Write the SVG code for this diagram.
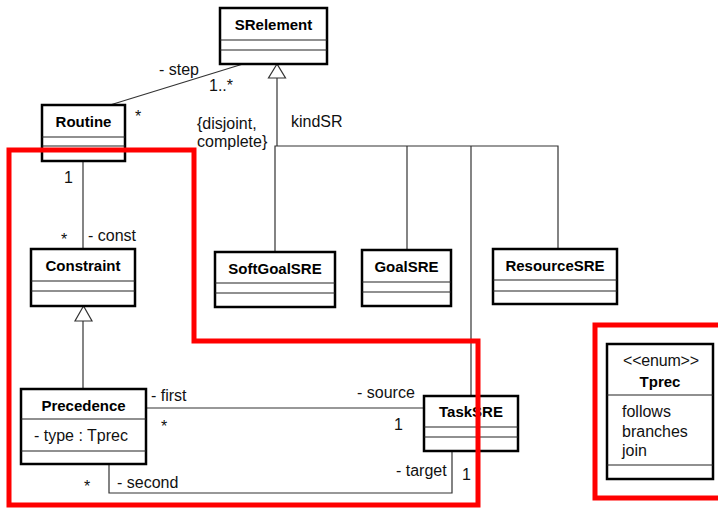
<svg xmlns="http://www.w3.org/2000/svg" width="718" height="510" viewBox="0 0 718 510">
<style>
.box{fill:#fff;stroke:#000;stroke-width:2.5}
.div{stroke:#222;stroke-width:1.2;fill:none}
.ln{stroke:#333;stroke-width:1.2;fill:none}
.tri{fill:#fff;stroke:#333;stroke-width:1.2}
.t{font-family:"Liberation Sans",Arial,sans-serif;font-size:16px;fill:#111}
.b{font-family:"Liberation Sans",Arial,sans-serif;font-size:15px;font-weight:bold;fill:#000;text-anchor:middle}
.red{fill:none;stroke:#f00;stroke-width:5}
</style>
<rect width="718" height="510" fill="#fff"/>
<g id="connectors">
<line class="ln" x1="110" y1="105" x2="243" y2="64"/>
<line class="ln" x1="277" y1="78" x2="277" y2="146"/>
<polyline class="ln" points="275,252 275,146 558,146 558,249"/>
<line class="ln" x1="407" y1="146" x2="407" y2="250"/>
<line class="ln" x1="471" y1="146" x2="471" y2="396"/>
<polygon class="tri" points="277,64 268.5,78 285.5,78"/>
<line class="ln" x1="83" y1="161" x2="83" y2="249"/>
<line class="ln" x1="83" y1="321" x2="83" y2="389"/>
<polygon class="tri" points="83.5,306 75,321 92,321"/>
<line class="ln" x1="146" y1="408" x2="424" y2="408"/>
<polyline class="ln" points="109,464 109,493 452,493 452,451"/>
<text class="t" x="159" y="75">- step</text>
<text class="t" x="209" y="91">1..*</text>
<text class="t" x="135" y="122">*</text>
<text class="t" x="197" y="129">{disjoint,</text>
<text class="t" x="197" y="147">complete}</text>
<text class="t" x="291" y="127">kindSR</text>
<text class="t" x="64" y="183">1</text>
<text class="t" x="61" y="245">*</text>
<text class="t" x="88" y="241">- const</text>
<text class="t" x="151" y="401">- first</text>
<text class="t" x="161" y="432">*</text>
<text class="t" x="357" y="398">- source</text>
<text class="t" x="394" y="430">1</text>
<text class="t" x="84" y="492">*</text>
<text class="t" x="117" y="488">- second</text>
<text class="t" x="396" y="476">- target</text>
<text class="t" x="462" y="480">1</text>
</g>
<g id="SRelement">
<rect class="box" x="220" y="8" width="107" height="56"/>
<line class="div" x1="220" y1="40" x2="327" y2="40"/>
<line class="div" x1="220" y1="50" x2="327" y2="50"/>
<text class="b" x="273.5" y="30">SRelement</text>
</g>
<g id="Routine">
<rect class="box" x="42" y="105" width="83" height="56"/>
<line class="div" x1="42" y1="137" x2="125" y2="137"/>
<line class="div" x1="42" y1="146" x2="125" y2="146"/>
<text class="b" x="83.5" y="127">Routine</text>
</g>
<g id="Constraint">
<rect class="box" x="31" y="249" width="104" height="57"/>
<line class="div" x1="31" y1="281" x2="135" y2="281"/>
<line class="div" x1="31" y1="291" x2="135" y2="291"/>
<text class="b" x="83" y="271">Constraint</text>
</g>
<g id="SoftGoalSRE">
<rect class="box" x="215" y="252" width="120" height="55"/>
<line class="div" x1="215" y1="283" x2="335" y2="283"/>
<line class="div" x1="215" y1="293" x2="335" y2="293"/>
<text class="b" x="275" y="274">SoftGoalSRE</text>
</g>
<g id="GoalSRE">
<rect class="box" x="362" y="250" width="89" height="56"/>
<line class="div" x1="362" y1="282" x2="451" y2="282"/>
<line class="div" x1="362" y1="292" x2="451" y2="292"/>
<text class="b" x="406.5" y="272">GoalSRE</text>
</g>
<g id="ResourceSRE">
<rect class="box" x="493" y="249" width="124" height="55"/>
<line class="div" x1="493" y1="280" x2="617" y2="280"/>
<line class="div" x1="493" y1="291" x2="617" y2="291"/>
<text class="b" x="555" y="271">ResourceSRE</text>
</g>
<g id="Precedence">
<rect class="box" x="21" y="389" width="125" height="75"/>
<line class="div" x1="21" y1="419" x2="146" y2="419"/>
<line class="div" x1="21" y1="451" x2="146" y2="451"/>
<text class="b" x="83.5" y="411">Precedence</text>
<text class="t" x="34" y="441">- type : Tprec</text>
</g>
<g id="TaskSRE">
<rect class="box" x="424" y="396" width="94" height="55"/>
<line class="div" x1="424" y1="427" x2="518" y2="427"/>
<line class="div" x1="424" y1="437" x2="518" y2="437"/>
<text class="b" x="471" y="417">TaskSRE</text>
</g>
<g id="Tprec">
<rect class="box" x="607" y="344" width="106" height="135"/>
<line class="div" x1="607" y1="395" x2="713" y2="395"/>
<line class="div" x1="607" y1="465" x2="713" y2="465"/>
<text class="t" x="623" y="366" font-size="13" textLength="76" lengthAdjust="spacing">&lt;&lt;enum&gt;&gt;</text>
<text class="b" x="660" y="387">Tprec</text>
<text class="t" x="622" y="417">follows</text>
<text class="t" x="622" y="437">branches</text>
<text class="t" x="622" y="456">join</text>
</g>
<g id="highlights">
<polygon class="red" points="9,150 194,150 194,341 478,341 478,505 9,505"/>
<rect class="red" x="595" y="325" width="140" height="173"/>
</g>
</svg>
